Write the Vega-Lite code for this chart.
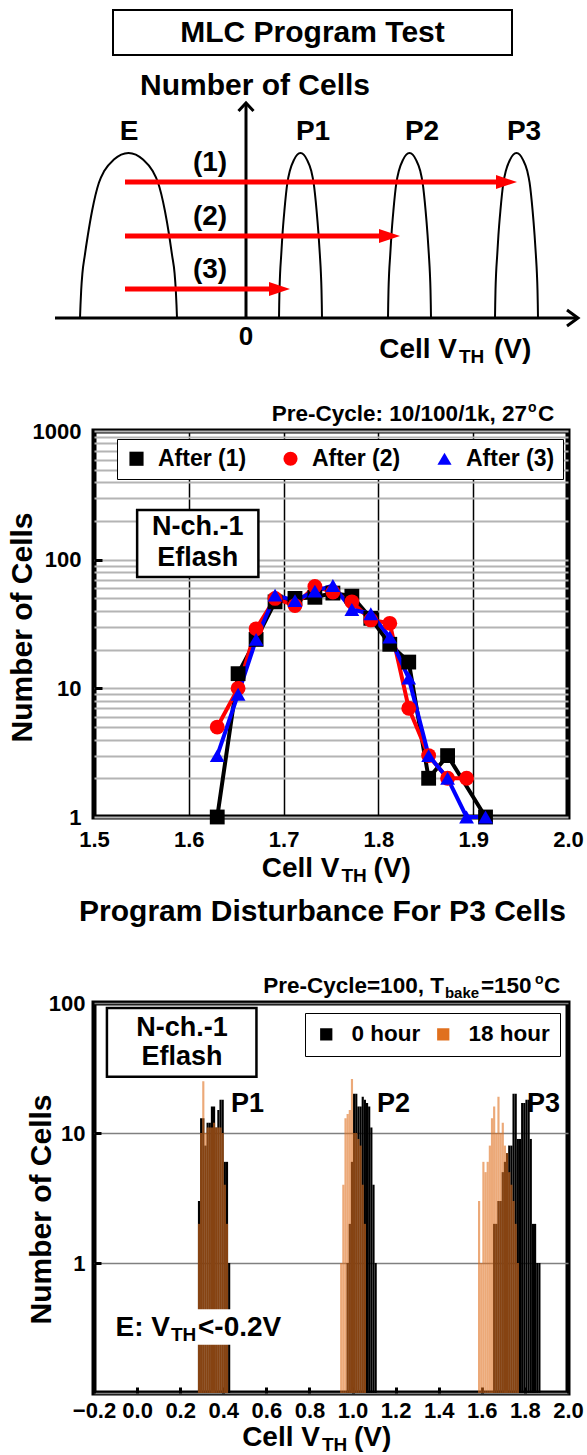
{
"$schema": "https://vega.github.io/schema/vega-lite/v6.json",
"background": "white",
"padding": 0,
"spacing": 186,
"bounds": "flush",
"resolve": {"scale": {"color": "independent", "shape": "independent", "opacity": "independent"}, "legend": {"color": "independent", "shape": "independent"}},
"config": {
  "font": "Liberation Sans",
  "view": {"stroke": null},
  "text": {"font": "Liberation Sans", "fontWeight": "bold", "color": "black"},
  "axis": {"domain": false, "labelFont": "Liberation Sans", "labelFontWeight": "bold", "labelColor": "black", "labelFontSize": 22, "titleFont": "Liberation Sans", "titleFontWeight": "bold", "titleColor": "black", "labelFlush": false, "labelOverlap": false},
  "legend": {"labelFont": "Liberation Sans", "labelFontWeight": "bold", "labelColor": "black"}
},
"datasets": {
  "one": [{}],
  "humps": [
    {"hump":"E","x":-166,"y":0},{"hump":"E","x":-165.5,"y":13.2},{"hump":"E","x":-164.8,"y":28},{"hump":"E","x":-163.6,"y":44.6},{"hump":"E","x":-161.2,"y":62.7},{"hump":"E","x":-158.2,"y":82.5},{"hump":"E","x":-153.9,"y":107.3},{"hump":"E","x":-147.1,"y":135.3},{"hump":"E","x":-141.8,"y":146.9},{"hump":"E","x":-132.1,"y":158.4},{"hump":"E","x":-124.8,"y":163.4},{"hump":"E","x":-117.5,"y":165},{"hump":"E","x":-110.2,"y":163.4},{"hump":"E","x":-103,"y":158.4},{"hump":"E","x":-93.3,"y":146.9},{"hump":"E","x":-87.9,"y":135.3},{"hump":"E","x":-81.1,"y":107.3},{"hump":"E","x":-76.8,"y":82.5},{"hump":"E","x":-73.9,"y":62.7},{"hump":"E","x":-71.4,"y":44.6},{"hump":"E","x":-70.2,"y":28},{"hump":"E","x":-69.5,"y":13.2},{"hump":"E","x":-69,"y":0},
    {"hump":"P1","x":33,"y":0},{"hump":"P1","x":33.2,"y":13.2},{"hump":"P1","x":33.5,"y":28},{"hump":"P1","x":34.1,"y":44.6},{"hump":"P1","x":35.2,"y":62.7},{"hump":"P1","x":36.4,"y":82.5},{"hump":"P1","x":38.4,"y":107.3},{"hump":"P1","x":41.4,"y":135.3},{"hump":"P1","x":43.8,"y":146.9},{"hump":"P1","x":48.1,"y":158.4},{"hump":"P1","x":51.3,"y":163.4},{"hump":"P1","x":54.5,"y":165},{"hump":"P1","x":57.7,"y":163.4},{"hump":"P1","x":60.9,"y":158.4},{"hump":"P1","x":65.3,"y":146.9},{"hump":"P1","x":67.6,"y":135.3},{"hump":"P1","x":70.6,"y":107.3},{"hump":"P1","x":72.6,"y":82.5},{"hump":"P1","x":73.9,"y":62.7},{"hump":"P1","x":74.9,"y":44.6},{"hump":"P1","x":75.5,"y":28},{"hump":"P1","x":75.8,"y":13.2},{"hump":"P1","x":76,"y":0},
    {"hump":"P2","x":142,"y":0},{"hump":"P2","x":142.2,"y":13.2},{"hump":"P2","x":142.5,"y":28},{"hump":"P2","x":143.1,"y":44.6},{"hump":"P2","x":144.2,"y":62.7},{"hump":"P2","x":145.4,"y":82.5},{"hump":"P2","x":147.4,"y":107.3},{"hump":"P2","x":150.4,"y":135.3},{"hump":"P2","x":152.8,"y":146.9},{"hump":"P2","x":157.1,"y":158.4},{"hump":"P2","x":160.3,"y":163.4},{"hump":"P2","x":163.5,"y":165},{"hump":"P2","x":166.7,"y":163.4},{"hump":"P2","x":169.9,"y":158.4},{"hump":"P2","x":174.3,"y":146.9},{"hump":"P2","x":176.6,"y":135.3},{"hump":"P2","x":179.6,"y":107.3},{"hump":"P2","x":181.6,"y":82.5},{"hump":"P2","x":182.9,"y":62.7},{"hump":"P2","x":183.9,"y":44.6},{"hump":"P2","x":184.5,"y":28},{"hump":"P2","x":184.8,"y":13.2},{"hump":"P2","x":185,"y":0},
    {"hump":"P3","x":249,"y":0},{"hump":"P3","x":249.2,"y":13.2},{"hump":"P3","x":249.5,"y":28},{"hump":"P3","x":250.1,"y":44.6},{"hump":"P3","x":251.2,"y":62.7},{"hump":"P3","x":252.4,"y":82.5},{"hump":"P3","x":254.4,"y":107.3},{"hump":"P3","x":257.4,"y":135.3},{"hump":"P3","x":259.8,"y":146.9},{"hump":"P3","x":264.1,"y":158.4},{"hump":"P3","x":267.3,"y":163.4},{"hump":"P3","x":270.5,"y":165},{"hump":"P3","x":273.7,"y":163.4},{"hump":"P3","x":276.9,"y":158.4},{"hump":"P3","x":281.3,"y":146.9},{"hump":"P3","x":283.6,"y":135.3},{"hump":"P3","x":286.6,"y":107.3},{"hump":"P3","x":288.6,"y":82.5},{"hump":"P3","x":289.9,"y":62.7},{"hump":"P3","x":290.9,"y":44.6},{"hump":"P3","x":291.5,"y":28},{"hump":"P3","x":291.8,"y":13.2},{"hump":"P3","x":292,"y":0}
  ],
  "segs": [
    {"seg":"h","i":0,"x":-191,"y":0},{"seg":"h","i":1,"x":331,"y":0},
    {"seg":"v","i":0,"x":0,"y":0},{"seg":"v","i":1,"x":0,"y":214},
    {"seg":"hc","i":0,"x":321,"y":8},{"seg":"hc","i":1,"x":332,"y":0},{"seg":"hc","i":2,"x":321,"y":-8},
    {"seg":"vc","i":0,"x":-7.5,"y":207},{"seg":"vc","i":1,"x":0,"y":215},{"seg":"vc","i":2,"x":7.5,"y":207}
  ],
  "arrows": [
    {"arrow":"(1)","from":-121,"to":271,"y":136},
    {"arrow":"(2)","from":-121,"to":154,"y":82},
    {"arrow":"(3)","from":-121,"to":44,"y":29}
  ],
  "mid": [
    {"series":"After (1)","vth":1.630,"cells":1},{"series":"After (1)","vth":1.652,"cells":13},{"series":"After (1)","vth":1.671,"cells":24},{"series":"After (1)","vth":1.691,"cells":47},{"series":"After (1)","vth":1.712,"cells":50},{"series":"After (1)","vth":1.733,"cells":51},{"series":"After (1)","vth":1.752,"cells":55},{"series":"After (1)","vth":1.772,"cells":52},{"series":"After (1)","vth":1.792,"cells":35},{"series":"After (1)","vth":1.812,"cells":22},{"series":"After (1)","vth":1.832,"cells":16},{"series":"After (1)","vth":1.853,"cells":2},{"series":"After (1)","vth":1.873,"cells":3},{"series":"After (1)","vth":1.913,"cells":1},
    {"series":"After (2)","vth":1.630,"cells":5},{"series":"After (2)","vth":1.652,"cells":10},{"series":"After (2)","vth":1.671,"cells":29},{"series":"After (2)","vth":1.691,"cells":50},{"series":"After (2)","vth":1.712,"cells":44},{"series":"After (2)","vth":1.733,"cells":62},{"series":"After (2)","vth":1.752,"cells":56},{"series":"After (2)","vth":1.772,"cells":47},{"series":"After (2)","vth":1.792,"cells":34},{"series":"After (2)","vth":1.812,"cells":32},{"series":"After (2)","vth":1.832,"cells":7},{"series":"After (2)","vth":1.853,"cells":3},{"series":"After (2)","vth":1.873,"cells":2},{"series":"After (2)","vth":1.893,"cells":2},
    {"series":"After (3)","vth":1.630,"cells":3},{"series":"After (3)","vth":1.652,"cells":9},{"series":"After (3)","vth":1.671,"cells":24},{"series":"After (3)","vth":1.691,"cells":53},{"series":"After (3)","vth":1.712,"cells":48},{"series":"After (3)","vth":1.733,"cells":57},{"series":"After (3)","vth":1.752,"cells":63},{"series":"After (3)","vth":1.772,"cells":41},{"series":"After (3)","vth":1.792,"cells":38},{"series":"After (3)","vth":1.812,"cells":25},{"series":"After (3)","vth":1.832,"cells":12},{"series":"After (3)","vth":1.853,"cells":3},{"series":"After (3)","vth":1.873,"cells":2},{"series":"After (3)","vth":1.893,"cells":1},{"series":"After (3)","vth":1.913,"cells":1}
  ],
  "hist": [
    {"time":"0 hour","vth":0.28,"cells":3},{"time":"0 hour","vth":0.29,"cells":13},{"time":"0 hour","vth":0.30,"cells":13},{"time":"0 hour","vth":0.31,"cells":8},{"time":"0 hour","vth":0.32,"cells":12},{"time":"0 hour","vth":0.33,"cells":12},{"time":"0 hour","vth":0.34,"cells":16},{"time":"0 hour","vth":0.35,"cells":16},{"time":"0 hour","vth":0.36,"cells":11},{"time":"0 hour","vth":0.37,"cells":15},{"time":"0 hour","vth":0.38,"cells":18},{"time":"0 hour","vth":0.39,"cells":18},{"time":"0 hour","vth":0.40,"cells":6},{"time":"0 hour","vth":0.41,"cells":6},{"time":"0 hour","vth":0.42,"cells":1},
    {"time":"0 hour","vth":0.97,"cells":1},{"time":"0 hour","vth":0.98,"cells":2},{"time":"0 hour","vth":0.99,"cells":6},{"time":"0 hour","vth":1.00,"cells":20},{"time":"0 hour","vth":1.01,"cells":20},{"time":"0 hour","vth":1.02,"cells":16},{"time":"0 hour","vth":1.03,"cells":16},{"time":"0 hour","vth":1.04,"cells":19},{"time":"0 hour","vth":1.05,"cells":18},{"time":"0 hour","vth":1.06,"cells":17},{"time":"0 hour","vth":1.07,"cells":16},{"time":"0 hour","vth":1.08,"cells":11},{"time":"0 hour","vth":1.09,"cells":4},{"time":"0 hour","vth":1.10,"cells":1},
    {"time":"0 hour","vth":1.65,"cells":2},{"time":"0 hour","vth":1.66,"cells":2},{"time":"0 hour","vth":1.67,"cells":3},{"time":"0 hour","vth":1.68,"cells":3},{"time":"0 hour","vth":1.69,"cells":5},{"time":"0 hour","vth":1.70,"cells":6},{"time":"0 hour","vth":1.71,"cells":7},{"time":"0 hour","vth":1.72,"cells":8},{"time":"0 hour","vth":1.73,"cells":8},{"time":"0 hour","vth":1.74,"cells":20},{"time":"0 hour","vth":1.75,"cells":20},{"time":"0 hour","vth":1.76,"cells":9},{"time":"0 hour","vth":1.77,"cells":9},{"time":"0 hour","vth":1.78,"cells":17},{"time":"0 hour","vth":1.79,"cells":17},{"time":"0 hour","vth":1.80,"cells":18},{"time":"0 hour","vth":1.81,"cells":18},{"time":"0 hour","vth":1.82,"cells":9},{"time":"0 hour","vth":1.83,"cells":2},{"time":"0 hour","vth":1.84,"cells":2},{"time":"0 hour","vth":1.85,"cells":1},{"time":"0 hour","vth":1.86,"cells":1},
    {"time":"18 hour","vth":0.28,"cells":2},{"time":"18 hour","vth":0.29,"cells":10},{"time":"18 hour","vth":0.30,"cells":25},{"time":"18 hour","vth":0.31,"cells":10},{"time":"18 hour","vth":0.32,"cells":11},{"time":"18 hour","vth":0.33,"cells":11},{"time":"18 hour","vth":0.34,"cells":11},{"time":"18 hour","vth":0.35,"cells":12},{"time":"18 hour","vth":0.36,"cells":11},{"time":"18 hour","vth":0.37,"cells":11},{"time":"18 hour","vth":0.38,"cells":11},{"time":"18 hour","vth":0.39,"cells":10},{"time":"18 hour","vth":0.40,"cells":4},{"time":"18 hour","vth":0.41,"cells":2},
    {"time":"18 hour","vth":0.94,"cells":1},{"time":"18 hour","vth":0.95,"cells":4},{"time":"18 hour","vth":0.96,"cells":13},{"time":"18 hour","vth":0.97,"cells":14},{"time":"18 hour","vth":0.98,"cells":15},{"time":"18 hour","vth":0.99,"cells":26},{"time":"18 hour","vth":1.00,"cells":10},{"time":"18 hour","vth":1.01,"cells":10},{"time":"18 hour","vth":1.02,"cells":9},{"time":"18 hour","vth":1.03,"cells":8},{"time":"18 hour","vth":1.04,"cells":4},{"time":"18 hour","vth":1.05,"cells":2},
    {"time":"18 hour","vth":1.58,"cells":3},{"time":"18 hour","vth":1.59,"cells":1},{"time":"18 hour","vth":1.60,"cells":6},{"time":"18 hour","vth":1.61,"cells":5},{"time":"18 hour","vth":1.62,"cells":6},{"time":"18 hour","vth":1.63,"cells":8},{"time":"18 hour","vth":1.64,"cells":13},{"time":"18 hour","vth":1.65,"cells":16},{"time":"18 hour","vth":1.66,"cells":10},{"time":"18 hour","vth":1.67,"cells":19},{"time":"18 hour","vth":1.68,"cells":10},{"time":"18 hour","vth":1.69,"cells":12},{"time":"18 hour","vth":1.70,"cells":8},{"time":"18 hour","vth":1.71,"cells":7},{"time":"18 hour","vth":1.72,"cells":5},{"time":"18 hour","vth":1.73,"cells":4},{"time":"18 hour","vth":1.74,"cells":3},{"time":"18 hour","vth":1.75,"cells":2},{"time":"18 hour","vth":1.76,"cells":1}
  ]
},
"vconcat": [
{
  "width": 474, "height": 245,
  "view": {"stroke": null},
  "layer": [
    {"data": {"name": "one"}, "mark": {"type": "rect", "opacity": 0},
     "encoding": {"x": {"datum": -246, "type": "quantitative", "scale": {"domain": [-152, 322]}, "axis": null}, "x2": {"datum": -240},
                  "y": {"datum": 318, "type": "quantitative", "scale": {"domain": [73, 318]}, "axis": null}, "y2": {"datum": 312}}},
    {"data": {"name": "one"}, "mark": {"type": "rect", "fill": "white", "stroke": "black", "strokeWidth": 2},
     "encoding": {"x": {"datum": -133, "type": "quantitative", "scale": {"domain": [-152, 322]}, "axis": null}, "x2": {"datum": 266},
                  "y": {"datum": 308, "type": "quantitative", "scale": {"domain": [73, 318]}, "axis": null}, "y2": {"datum": 263}}},
    {"data": {"name": "one"}, "mark": {"type": "text", "fontSize": 30, "baseline": "middle"},
     "encoding": {"x": {"datum": 66.5, "type": "quantitative", "scale": {"domain": [-152, 322]}, "axis": null},
                  "y": {"datum": 285.5, "type": "quantitative", "scale": {"domain": [73, 318]}, "axis": null},
                  "text": {"value": "MLC Program Test"}}},
    {"data": {"name": "humps"},
     "mark": {"type": "line", "color": "black", "strokeWidth": 2, "interpolate": "monotone"},
     "encoding": {"x": {"field": "x", "type": "quantitative", "scale": {"domain": [-152, 322]}, "axis": null},
                  "y": {"field": "y", "type": "quantitative", "scale": {"domain": [73, 318]}, "axis": null},
                  "detail": {"field": "hump"}}},
    {"data": {"name": "segs"},
     "mark": {"type": "line", "color": "black", "strokeWidth": 3},
     "encoding": {"x": {"field": "x", "type": "quantitative", "scale": {"domain": [-152, 322]}, "axis": null},
                  "y": {"field": "y", "type": "quantitative", "scale": {"domain": [73, 318]}, "axis": null},
                  "detail": {"field": "seg"}, "order": {"field": "i"}}},
    {"data": {"name": "arrows"},
     "mark": {"type": "rule", "color": "#FF0000", "strokeWidth": 5, "x2Offset": -12},
     "encoding": {"x": {"field": "from", "type": "quantitative", "scale": {"domain": [-152, 322]}, "axis": null}, "x2": {"field": "to"},
                  "y": {"field": "y", "type": "quantitative", "scale": {"domain": [73, 318]}, "axis": null}}},
    {"data": {"name": "arrows"},
     "mark": {"type": "point", "shape": "M-1,-0.67L1,0L-1,0.67Z", "size": 441, "filled": true, "color": "#FF0000", "opacity": 1, "strokeWidth": 0, "xOffset": -10.5},
     "encoding": {"x": {"field": "to", "type": "quantitative", "scale": {"domain": [-152, 322]}, "axis": null},
                  "y": {"field": "y", "type": "quantitative", "scale": {"domain": [73, 318]}, "axis": null}}},
    {"data": {"name": "arrows"},
     "mark": {"type": "text", "fontSize": 28, "baseline": "middle", "dy": -19},
     "encoding": {"x": {"datum": -36, "type": "quantitative", "scale": {"domain": [-152, 322]}, "axis": null},
                  "y": {"field": "y", "type": "quantitative", "scale": {"domain": [73, 318]}, "axis": null},
                  "text": {"field": "arrow"}}},
    {"data": {"name": "one"}, "mark": {"type": "text", "fontSize": 28, "baseline": "middle"},
     "encoding": {"x": {"datum": -117, "type": "quantitative", "scale": {"domain": [-152, 322]}, "axis": null},
                  "y": {"datum": 186, "type": "quantitative", "scale": {"domain": [73, 318]}, "axis": null}, "text": {"value": "E"}}},
    {"data": {"name": "one"}, "mark": {"type": "text", "fontSize": 28, "baseline": "middle"},
     "encoding": {"x": {"datum": 67, "type": "quantitative", "scale": {"domain": [-152, 322]}, "axis": null},
                  "y": {"datum": 186, "type": "quantitative", "scale": {"domain": [73, 318]}, "axis": null}, "text": {"value": "P1"}}},
    {"data": {"name": "one"}, "mark": {"type": "text", "fontSize": 28, "baseline": "middle"},
     "encoding": {"x": {"datum": 176, "type": "quantitative", "scale": {"domain": [-152, 322]}, "axis": null},
                  "y": {"datum": 186, "type": "quantitative", "scale": {"domain": [73, 318]}, "axis": null}, "text": {"value": "P2"}}},
    {"data": {"name": "one"}, "mark": {"type": "text", "fontSize": 28, "baseline": "middle"},
     "encoding": {"x": {"datum": 278, "type": "quantitative", "scale": {"domain": [-152, 322]}, "axis": null},
                  "y": {"datum": 186, "type": "quantitative", "scale": {"domain": [73, 318]}, "axis": null}, "text": {"value": "P3"}}},
    {"data": {"name": "one"}, "mark": {"type": "text", "fontSize": 26, "baseline": "middle"},
     "encoding": {"x": {"datum": 0, "type": "quantitative", "scale": {"domain": [-152, 322]}, "axis": null},
                  "y": {"datum": -19, "type": "quantitative", "scale": {"domain": [73, 318]}, "axis": null}, "text": {"value": "0"}}},
    {"data": {"name": "one"}, "mark": {"type": "text", "fontSize": 30, "baseline": "alphabetic"},
     "encoding": {"x": {"datum": 9, "type": "quantitative", "scale": {"domain": [-152, 322]}, "axis": null},
                  "y": {"datum": 223, "type": "quantitative", "scale": {"domain": [73, 318]}, "axis": null}, "text": {"value": "Number of Cells"}}},
    {"data": {"name": "one"}, "mark": {"type": "text", "fontSize": 28, "baseline": "alphabetic", "align": "right"},
     "encoding": {"x": {"datum": 211, "type": "quantitative", "scale": {"domain": [-152, 322]}, "axis": null},
                  "y": {"datum": -40, "type": "quantitative", "scale": {"domain": [73, 318]}, "axis": null}, "text": {"value": "Cell V"}}},
    {"data": {"name": "one"}, "mark": {"type": "text", "fontSize": 19, "baseline": "alphabetic", "align": "left"},
     "encoding": {"x": {"datum": 213, "type": "quantitative", "scale": {"domain": [-152, 322]}, "axis": null},
                  "y": {"datum": -45, "type": "quantitative", "scale": {"domain": [73, 318]}, "axis": null}, "text": {"value": "TH"}}},
    {"data": {"name": "one"}, "mark": {"type": "text", "fontSize": 28, "baseline": "alphabetic", "align": "left"},
     "encoding": {"x": {"datum": 248, "type": "quantitative", "scale": {"domain": [-152, 322]}, "axis": null},
                  "y": {"datum": -40, "type": "quantitative", "scale": {"domain": [73, 318]}, "axis": null}, "text": {"value": "(V)"}}}
  ]
},
{
  "width": 474, "height": 386,
  "view": {"stroke": "black", "strokeWidth": 5},
  "layer": [
    {"data": {"name": "mid"},
     "transform": [{"filter": "datum.series === 'After (1)'"}],
     "mark": {"type": "line", "strokeWidth": 4, "color": "#000000"},
     "encoding": {
       "x": {"field": "vth", "type": "quantitative", "scale": {"domain": [1.5, 2.0]},
             "axis": {"values": [1.5, 1.6, 1.7, 1.8, 1.9, 2.0], "format": ".1f", "labelPadding": 12, "labelDx": -2, "ticks": false, "grid": true, "gridColor": "black", "gridWidth": 1.5, "title": null}},
       "y": {"field": "cells", "type": "quantitative", "scale": {"type": "log", "domain": [1, 1000]},
             "axis": {"values": [1,2,3,4,5,6,7,8,9,10,20,30,40,50,60,70,80,90,100,200,300,400,500,600,700,800,900,1000], "format": "d",
                      "labelExpr": "(datum.value == 1 || datum.value == 10 || datum.value == 100 || datum.value == 1000) ? datum.label : ''",
                      "labelPadding": 21, "grid": true, "gridColor": "#b4b4b4", "gridWidth": 2,
                      "ticks": true, "tickSize": -8, "tickWidth": 3,
                      "tickColor": {"condition": {"test": "datum.value == 10 || datum.value == 100", "value": "black"}, "value": "transparent"},
                      "title": "Number of Cells", "titleFontSize": 30, "titleX": -72, "titleY": 196, "titleAngle": -90, "titleAlign": "center", "titleBaseline": "middle"}}
     }},
    {"data": {"name": "mid"},
     "transform": [{"filter": "datum.series === 'After (2)'"}],
     "mark": {"type": "line", "strokeWidth": 4, "color": "#FF0000"},
     "encoding": {
       "x": {"field": "vth", "type": "quantitative", "scale": {"domain": [1.5, 2.0]}},
       "y": {"field": "cells", "type": "quantitative", "scale": {"type": "log", "domain": [1, 1000]}}
     }},
    {"data": {"name": "mid"},
     "transform": [{"filter": "datum.series === 'After (3)'"}],
     "mark": {"type": "line", "strokeWidth": 4, "color": "#0000FF"},
     "encoding": {
       "x": {"field": "vth", "type": "quantitative", "scale": {"domain": [1.5, 2.0]}},
       "y": {"field": "cells", "type": "quantitative", "scale": {"type": "log", "domain": [1, 1000]}}
     }},
    {"data": {"name": "mid"},
     "mark": {"type": "point", "filled": true, "opacity": 1, "size": 220, "strokeWidth": 0},
     "encoding": {
       "x": {"field": "vth", "type": "quantitative", "scale": {"domain": [1.5, 2.0]}},
       "y": {"field": "cells", "type": "quantitative", "scale": {"type": "log", "domain": [1, 1000]}},
       "shape": {"field": "series", "type": "nominal", "scale": {"domain": ["After (1)", "After (2)", "After (3)"], "range": ["square", "circle", "triangle-up"]},
                 "legend": {"orient": "none", "legendX": 23, "legendY": 8, "direction": "horizontal", "columns": 3, "title": null,
                            "strokeColor": "black", "fillColor": "white", "padding": 8,
                            "symbolSize": 200, "symbolStrokeWidth": 0, "labelFontSize": 23, "labelOffset": 10, "columnPadding": 32,
                            "encode": {"legend": {"update": {"strokeWidth": {"value": 2.5}}}}}},
       "color": {"field": "series", "type": "nominal", "scale": {"domain": ["After (1)", "After (2)", "After (3)"], "range": ["#000000", "#FF0000", "#0000FF"]},
                 "legend": {"orient": "none", "legendX": 23, "legendY": 8, "direction": "horizontal", "columns": 3, "title": null,
                            "strokeColor": "black", "fillColor": "white", "padding": 8,
                            "symbolSize": 200, "symbolStrokeWidth": 0, "labelFontSize": 23, "labelOffset": 10, "columnPadding": 32,
                            "encode": {"legend": {"update": {"strokeWidth": {"value": 2.5}}}}}}
     }},
    {"data": {"name": "one"}, "mark": {"type": "text", "fontSize": 22.5, "align": "right", "baseline": "alphabetic"},
     "encoding": {"x": {"datum": 1.9567, "type": "quantitative", "scale": {"domain": [1.5, 2.0]}},
                  "y": {"datum": 1194, "type": "quantitative", "scale": {"type": "log", "domain": [1, 1000]}},
                  "text": {"value": "Pre-Cycle: 10/100/1k, 27"}}},
    {"data": {"name": "one"}, "mark": {"type": "text", "fontSize": 14, "align": "left", "baseline": "alphabetic"},
     "encoding": {"x": {"datum": 1.9577, "type": "quantitative", "scale": {"domain": [1.5, 2.0]}},
                  "y": {"datum": 1403, "type": "quantitative", "scale": {"type": "log", "domain": [1, 1000]}},
                  "text": {"value": "o"}}},
    {"data": {"name": "one"}, "mark": {"type": "text", "fontSize": 22.5, "align": "left", "baseline": "alphabetic"},
     "encoding": {"x": {"datum": 1.9683, "type": "quantitative", "scale": {"domain": [1.5, 2.0]}},
                  "y": {"datum": 1194, "type": "quantitative", "scale": {"type": "log", "domain": [1, 1000]}},
                  "text": {"value": "C"}}},
    {"data": {"name": "one"}, "mark": {"type": "rect", "fill": "white", "stroke": "black", "strokeWidth": 2.5},
     "encoding": {"x": {"datum": 1.5455, "type": "quantitative", "scale": {"domain": [1.5, 2.0]}}, "x2": {"datum": 1.6734},
                  "y": {"datum": 243, "type": "quantitative", "scale": {"type": "log", "domain": [1, 1000]}}, "y2": {"datum": 73.3}}},
    {"data": {"name": "one"}, "mark": {"type": "text", "fontSize": 27, "baseline": "middle"},
     "encoding": {"x": {"datum": 1.6094, "type": "quantitative", "scale": {"domain": [1.5, 2.0]}},
                  "y": {"datum": 179, "type": "quantitative", "scale": {"type": "log", "domain": [1, 1000]}},
                  "text": {"value": "N-ch.-1"}}},
    {"data": {"name": "one"}, "mark": {"type": "text", "fontSize": 27, "baseline": "middle"},
     "encoding": {"x": {"datum": 1.6094, "type": "quantitative", "scale": {"domain": [1.5, 2.0]}},
                  "y": {"datum": 103, "type": "quantitative", "scale": {"type": "log", "domain": [1, 1000]}},
                  "text": {"value": "Eflash"}}},
    {"data": {"name": "one"}, "mark": {"type": "text", "fontSize": 28, "align": "right", "baseline": "alphabetic"},
     "encoding": {"x": {"datum": 1.759, "type": "quantitative", "scale": {"domain": [1.5, 2.0]}},
                  "y": {"datum": 0.342, "type": "quantitative", "scale": {"type": "log", "domain": [1, 1000]}},
                  "text": {"value": "Cell V"}}},
    {"data": {"name": "one"}, "mark": {"type": "text", "fontSize": 19, "align": "left", "baseline": "alphabetic"},
     "encoding": {"x": {"datum": 1.761, "type": "quantitative", "scale": {"domain": [1.5, 2.0]}},
                  "y": {"datum": 0.3126, "type": "quantitative", "scale": {"type": "log", "domain": [1, 1000]}},
                  "text": {"value": "TH"}}},
    {"data": {"name": "one"}, "mark": {"type": "text", "fontSize": 28, "align": "left", "baseline": "alphabetic"},
     "encoding": {"x": {"datum": 1.7949, "type": "quantitative", "scale": {"domain": [1.5, 2.0]}},
                  "y": {"datum": 0.342, "type": "quantitative", "scale": {"type": "log", "domain": [1, 1000]}},
                  "text": {"value": "(V)"}}}
  ]
},
{
  "width": 474, "height": 390,
  "view": {"stroke": "black", "strokeWidth": 5},
  "layer": [
    {"data": {"name": "hist"},
     "mark": {"type": "bar", "binSpacing": 0, "strokeWidth": 0},
     "encoding": {
       "x": {"field": "vth", "type": "quantitative", "bin": {"binned": true, "step": 0.01}, "scale": {"domain": [-0.2, 2.0]},
             "axis": {"values": [-0.2, 0, 0.2, 0.4, 0.6, 0.8, 1, 1.2, 1.4, 1.6, 1.8, 2], "format": ".1f", "labelPadding": 13, "ticks": true, "tickSize": -6, "tickWidth": 3, "tickColor": "black", "grid": false, "title": null}},
       "y": {"field": "cells", "type": "quantitative", "scale": {"type": "log", "domain": [0.1, 100]},
             "axis": {"values": [0.1, 1, 10, 100], "format": "d", "labelExpr": "datum.value >= 1 ? datum.label : ''",
                      "labelPadding": 16, "ticks": true, "tickSize": -7, "tickWidth": 3,
                      "tickColor": {"condition": {"test": "datum.value == 1 || datum.value == 10", "value": "black"}, "value": "transparent"},
                      "grid": true, "gridColor": "#808080", "gridWidth": 1.5,
                      "title": "Number of Cells", "titleFontSize": 30, "titleX": -53, "titleY": 206, "titleAngle": -90, "titleAlign": "center", "titleBaseline": "middle"}},
       "y2": {"datum": 0.1},
       "color": {"field": "time", "type": "nominal", "scale": {"domain": ["0 hour", "18 hour"], "range": ["#000000", "#E0701E"]},
                 "legend": {"orient": "none", "legendX": 211, "legendY": 10, "direction": "horizontal", "columns": 2, "title": null,
                            "strokeColor": "black", "fillColor": "white", "padding": 10,
                            "symbolType": "square", "symbolSize": 150, "symbolStrokeWidth": 0, "labelFontSize": 22.5, "labelOffset": 14, "columnPadding": 11,
                            "encode": {"legend": {"update": {"strokeWidth": {"value": 2.5}}},
                                       "symbols": {"update": {"opacity": {"signal": "datum.value === '18 hour' ? 0.6 : 1"}}}}}},
       "opacity": {"condition": {"test": "datum.time === '18 hour'", "value": 0.6}, "value": 1}
     }},
    {"data": {"name": "one"}, "mark": {"type": "rect", "fill": "white"},
     "encoding": {"x": {"datum": 0.275, "type": "quantitative", "scale": {"domain": [-0.2, 2.0]}}, "x2": {"datum": 0.665},
                  "y": {"datum": 0.44, "type": "quantitative", "scale": {"type": "log", "domain": [0.1, 100]}}, "y2": {"datum": 0.235}}},
    {"data": {"name": "one"}, "mark": {"type": "text", "fontSize": 28, "align": "right", "baseline": "alphabetic"},
     "encoding": {"x": {"datum": 0.1527, "type": "quantitative", "scale": {"domain": [-0.2, 2.0]}},
                  "y": {"datum": 0.2758, "type": "quantitative", "scale": {"type": "log", "domain": [0.1, 100]}},
                  "text": {"value": "E: V"}}},
    {"data": {"name": "one"}, "mark": {"type": "text", "fontSize": 19, "align": "left", "baseline": "alphabetic"},
     "encoding": {"x": {"datum": 0.1573, "type": "quantitative", "scale": {"domain": [-0.2, 2.0]}},
                  "y": {"datum": 0.2525, "type": "quantitative", "scale": {"type": "log", "domain": [0.1, 100]}},
                  "text": {"value": "TH"}}},
    {"data": {"name": "one"}, "mark": {"type": "text", "fontSize": 28, "align": "left", "baseline": "alphabetic"},
     "encoding": {"x": {"datum": 0.2826, "type": "quantitative", "scale": {"domain": [-0.2, 2.0]}},
                  "y": {"datum": 0.2758, "type": "quantitative", "scale": {"type": "log", "domain": [0.1, 100]}},
                  "text": {"value": "<-0.2V"}}},
    {"data": {"name": "one"}, "mark": {"type": "text", "fontSize": 27, "align": "left", "baseline": "alphabetic"},
     "encoding": {"x": {"datum": 0.4357, "type": "quantitative", "scale": {"domain": [-0.2, 2.0]}},
                  "y": {"datum": 14.6, "type": "quantitative", "scale": {"type": "log", "domain": [0.1, 100]}},
                  "text": {"value": "P1"}}},
    {"data": {"name": "one"}, "mark": {"type": "text", "fontSize": 27, "align": "left", "baseline": "alphabetic"},
     "encoding": {"x": {"datum": 1.1132, "type": "quantitative", "scale": {"domain": [-0.2, 2.0]}},
                  "y": {"datum": 14.6, "type": "quantitative", "scale": {"type": "log", "domain": [0.1, 100]}},
                  "text": {"value": "P2"}}},
    {"data": {"name": "one"}, "mark": {"type": "text", "fontSize": 27, "align": "left", "baseline": "alphabetic"},
     "encoding": {"x": {"datum": 1.8093, "type": "quantitative", "scale": {"domain": [-0.2, 2.0]}},
                  "y": {"datum": 14.6, "type": "quantitative", "scale": {"type": "log", "domain": [0.1, 100]}},
                  "text": {"value": "P3"}}},
    {"data": {"name": "one"}, "mark": {"type": "rect", "fill": "white", "stroke": "black", "strokeWidth": 2.5},
     "encoding": {"x": {"datum": -0.14, "type": "quantitative", "scale": {"domain": [-0.2, 2.0]}}, "x2": {"datum": 0.554},
                  "y": {"datum": 91.6, "type": "quantitative", "scale": {"type": "log", "domain": [0.1, 100]}}, "y2": {"datum": 27.1}}},
    {"data": {"name": "one"}, "mark": {"type": "text", "fontSize": 27, "baseline": "middle"},
     "encoding": {"x": {"datum": 0.208, "type": "quantitative", "scale": {"domain": [-0.2, 2.0]}},
                  "y": {"datum": 64.3, "type": "quantitative", "scale": {"type": "log", "domain": [0.1, 100]}},
                  "text": {"value": "N-ch.-1"}}},
    {"data": {"name": "one"}, "mark": {"type": "text", "fontSize": 27, "baseline": "middle"},
     "encoding": {"x": {"datum": 0.208, "type": "quantitative", "scale": {"domain": [-0.2, 2.0]}},
                  "y": {"datum": 38.6, "type": "quantitative", "scale": {"type": "log", "domain": [0.1, 100]}},
                  "text": {"value": "Eflash"}}},
    {"data": {"name": "one"}, "mark": {"type": "text", "fontSize": 22.5, "align": "right", "baseline": "alphabetic"},
     "encoding": {"x": {"datum": 1.4241, "type": "quantitative", "scale": {"domain": [-0.2, 2.0]}},
                  "y": {"datum": 119.3, "type": "quantitative", "scale": {"type": "log", "domain": [0.1, 100]}},
                  "text": {"value": "Pre-Cycle=100, T"}}},
    {"data": {"name": "one"}, "mark": {"type": "text", "fontSize": 15, "align": "left", "baseline": "alphabetic"},
     "encoding": {"x": {"datum": 1.4288, "type": "quantitative", "scale": {"domain": [-0.2, 2.0]}},
                  "y": {"datum": 109.2, "type": "quantitative", "scale": {"type": "log", "domain": [0.1, 100]}},
                  "text": {"value": "bake"}}},
    {"data": {"name": "one"}, "mark": {"type": "text", "fontSize": 22.5, "align": "left", "baseline": "alphabetic"},
     "encoding": {"x": {"datum": 1.5958, "type": "quantitative", "scale": {"domain": [-0.2, 2.0]}},
                  "y": {"datum": 119.3, "type": "quantitative", "scale": {"type": "log", "domain": [0.1, 100]}},
                  "text": {"value": "=150"}}},
    {"data": {"name": "one"}, "mark": {"type": "text", "fontSize": 14, "align": "left", "baseline": "alphabetic"},
     "encoding": {"x": {"datum": 1.8464, "type": "quantitative", "scale": {"domain": [-0.2, 2.0]}},
                  "y": {"datum": 139.8, "type": "quantitative", "scale": {"type": "log", "domain": [0.1, 100]}},
                  "text": {"value": "o"}}},
    {"data": {"name": "one"}, "mark": {"type": "text", "fontSize": 22.5, "align": "left", "baseline": "alphabetic"},
     "encoding": {"x": {"datum": 1.8882, "type": "quantitative", "scale": {"domain": [-0.2, 2.0]}},
                  "y": {"datum": 119.3, "type": "quantitative", "scale": {"type": "log", "domain": [0.1, 100]}},
                  "text": {"value": "C"}}},
    {"data": {"name": "one"}, "mark": {"type": "text", "fontSize": 30, "align": "center", "baseline": "alphabetic"},
     "encoding": {"x": {"datum": 0.8603, "type": "quantitative", "scale": {"domain": [-0.2, 2.0]}},
                  "y": {"datum": 424.6, "type": "quantitative", "scale": {"type": "log", "domain": [0.1, 100]}},
                  "text": {"value": "Program Disturbance For P3 Cells"}}},
    {"data": {"name": "one"}, "mark": {"type": "text", "fontSize": 28, "align": "right", "baseline": "alphabetic"},
     "encoding": {"x": {"datum": 0.8487, "type": "quantitative", "scale": {"domain": [-0.2, 2.0]}},
                  "y": {"datum": 0.0389, "type": "quantitative", "scale": {"type": "log", "domain": [0.1, 100]}},
                  "text": {"value": "Cell V"}}},
    {"data": {"name": "one"}, "mark": {"type": "text", "fontSize": 19, "align": "left", "baseline": "alphabetic"},
     "encoding": {"x": {"datum": 0.858, "type": "quantitative", "scale": {"domain": [-0.2, 2.0]}},
                  "y": {"datum": 0.0356, "type": "quantitative", "scale": {"type": "log", "domain": [0.1, 100]}},
                  "text": {"value": "TH"}}},
    {"data": {"name": "one"}, "mark": {"type": "text", "fontSize": 28, "align": "left", "baseline": "alphabetic"},
     "encoding": {"x": {"datum": 1.0065, "type": "quantitative", "scale": {"domain": [-0.2, 2.0]}},
                  "y": {"datum": 0.0389, "type": "quantitative", "scale": {"type": "log", "domain": [0.1, 100]}},
                  "text": {"value": "(V)"}}}
  ]
}
]
}
